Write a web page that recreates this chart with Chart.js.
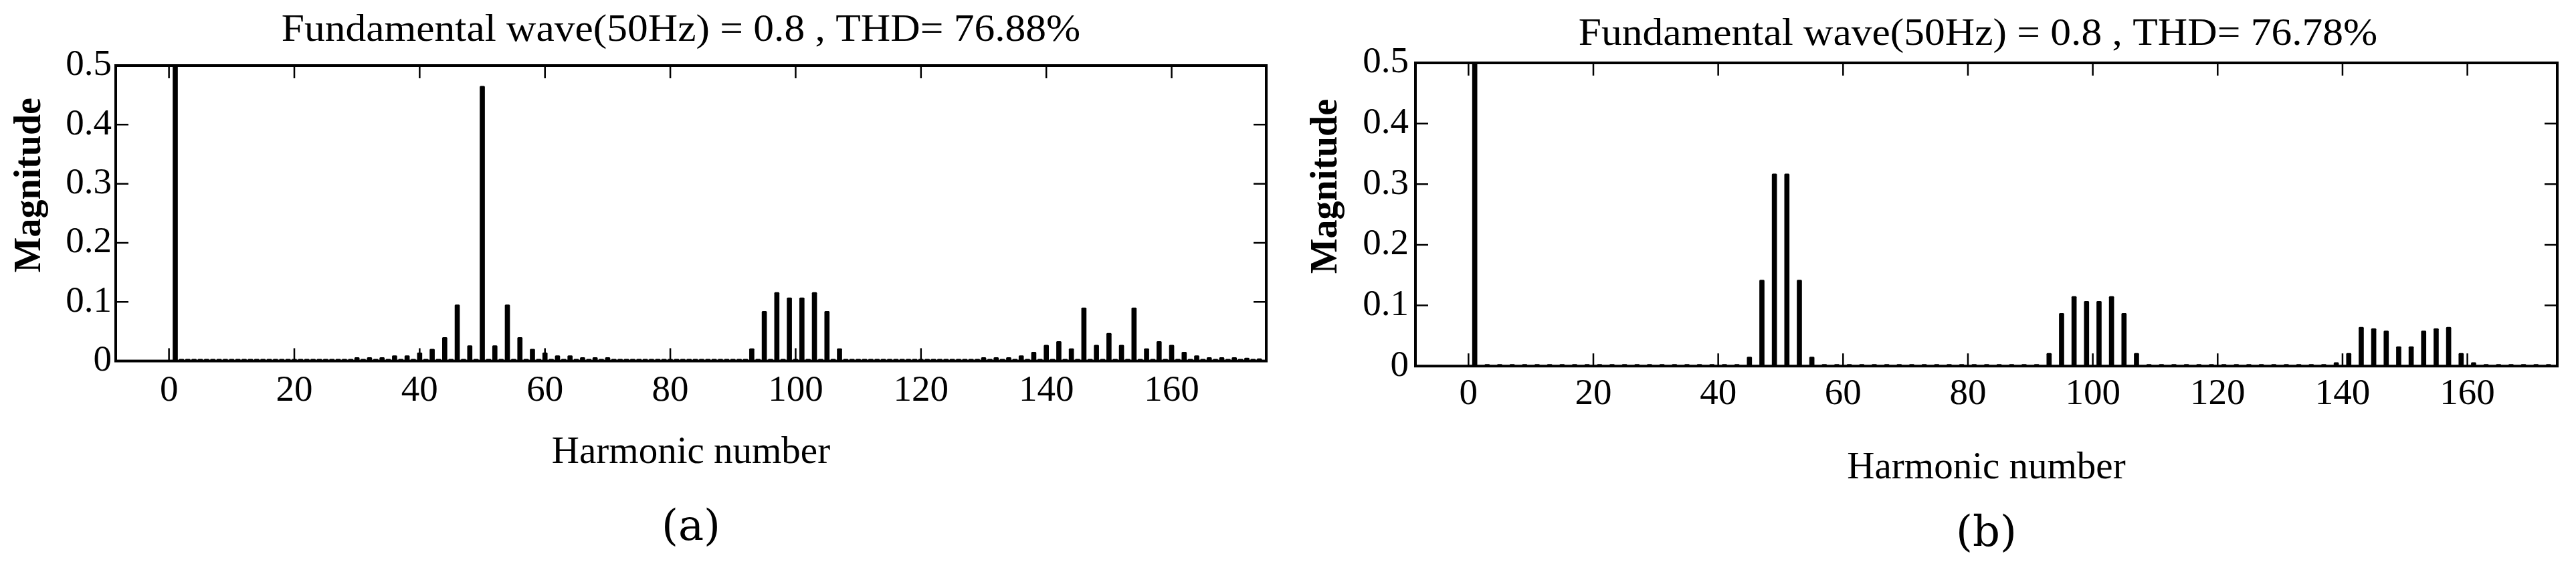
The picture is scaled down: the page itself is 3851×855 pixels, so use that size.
<!DOCTYPE html>
<html>
<head>
<meta charset="utf-8">
<script src="https://cdn.jsdelivr.net/npm/chart.js@4.4.1/dist/chart.umd.min.js"></script>
<style>
  html, body { margin: 0; padding: 0; background: #fff; }
  #wrap { position: relative; width: 3851px; height: 855px; }
  canvas { position: absolute; top: 0; }
  #chartA { left: 0; }
  #chartB { left: 1925px; }
</style>
</head>
<body>
<div id="wrap">
  <canvas id="chartA" width="1925" height="855"></canvas>
  <canvas id="chartB" width="1926" height="855"></canvas>
</div>
<script>
// harmonic magnitudes, index = harmonic number (0..174)
const magnitudesA = [
  0, 0.8, .003, .003, .003, .003, .003, .003, .003, .003,
  .003, .003, .003, .003, .003, .003, .003, .003, .003, .003,
  .003, .003, .003, .003, .003, .003, .003, .003, .003, .003,
  .006, .003, .006, .003, .006, .003, .009, .003, .009, .003,
  .014, .003, .020, .003, .040, .003, .095, .003, .026, .003,
  .465, .003, .026, .003, .095, .003, .040, .003, .020, .003,
  .014, .003, .009, .003, .009, .003, .006, .003, .006, .003,
  .006, .003, .003, .003, .003, .003, .003, .003, .003, .003,
  .003, .003, .003, .003, .003, .003, .003, .003, .003, .003,
  .003, .003, .003, .021, .003, .084, .003, .116, .003, .107,
  .003, .107, .003, .116, .003, .084, .003, .021, .003, .003,
  .003, .003, .003, .003, .003, .003, .003, .003, .003, .003,
  .003, .003, .003, .003, .003, .003, .003, .003, .003, .003,
  .006, .003, .006, .003, .006, .003, .009, .003, .015, .003,
  .027, .003, .033, .003, .021, .003, .090, .003, .027, .003,
  .047, .003, .027, .003, .090, .003, .021, .003, .033, .003,
  .027, .003, .015, .003, .009, .003, .006, .003, .006, .003,
  .006, .003, .005, .003, .004
];

const magnitudesB = [
  0, 0.8, 0, .003, 0, .003, 0, .003, 0, .003,
  0, .003, 0, .003, 0, .003, 0, .003, 0, .003,
  0, .003, 0, .003, 0, .003, 0, .003, 0, .003,
  0, .003, 0, .003, 0, .003, 0, .003, 0, .003,
  0, .003, 0, .003, 0, .015, 0, .142, 0, .317,
  0, .317, 0, .142, 0, .015, 0, .003, 0, .003,
  0, .003, 0, .003, 0, .003, 0, .003, 0, .003,
  0, .003, 0, .003, 0, .003, 0, .003, 0, .003,
  0, .003, 0, .003, 0, .003, 0, .003, 0, .003,
  0, .003, 0, .021, 0, .087, 0, .115, 0, .107,
  0, .107, 0, .115, 0, .087, 0, .021, 0, .003,
  0, .003, 0, .003, 0, .003, 0, .003, 0, .003,
  0, .003, 0, .003, 0, .003, 0, .003, 0, .003,
  0, .003, 0, .003, 0, .003, 0, .003, 0, .006,
  0, .021, 0, .064, 0, .062, 0, .058, 0, .032,
  0, .032, 0, .058, 0, .062, 0, .064, 0, .021,
  0, .006, 0, .003, 0, .003, 0, .003, 0, .003,
  0, .003, 0, .003, 0
];

const harmonicTicks = [0, 20, 40, 60, 80, 100, 120, 140, 160];
const magnitudeTicks = [0, 0.1, 0.2, 0.3, 0.4, 0.5];

const titleA = 'Fundamental wave(50Hz) = 0.8 , THD= 76.88%';
const titleB = 'Fundamental wave(50Hz) = 0.8 , THD= 76.78%';

const SERIF = "'Liberation Serif', 'Times New Roman', serif";
Chart.defaults.font.family = SERIF;
Chart.defaults.color = '#000';

// MATLAB style box with inward ticks on all four sides
const matlabFrame = {
  id: 'matlabFrame',
  afterDatasetsDraw(chart) {
    const { ctx, chartArea: a, scales: { x, y } } = chart;
    const len = 19;
    ctx.save();
    ctx.strokeStyle = '#000';
    ctx.lineWidth = 2.5;
    ctx.beginPath();
    harmonicTicks.forEach(v => {
      const px = x.getPixelForValue(v);
      ctx.moveTo(px, a.bottom); ctx.lineTo(px, a.bottom - len);
      ctx.moveTo(px, a.top); ctx.lineTo(px, a.top + len);
    });
    magnitudeTicks.forEach(v => {
      const py = y.getPixelForValue(v);
      ctx.moveTo(a.left, py); ctx.lineTo(a.left + len, py);
      ctx.moveTo(a.right, py); ctx.lineTo(a.right - len, py);
    });
    ctx.stroke();
    ctx.lineWidth = 4;
    ctx.strokeRect(a.left, a.top, a.right - a.left, a.bottom - a.top);
    ctx.restore();
  }
};

// the figure title is a touch wider than plain Times, so draw it stretched
const wideTitle = {
  id: 'wideTitle',
  afterDraw(chart, args, opts) {
    const ctx = chart.ctx;
    ctx.save();
    ctx.font = '58px ' + SERIF;
    ctx.fillStyle = '#000';
    ctx.textAlign = 'center';
    ctx.textBaseline = 'middle';
    ctx.translate(opts.x, opts.y);
    ctx.scale(1.06, 1);
    ctx.fillText(opts.text, 0, 0);
    ctx.restore();
  }
};

function drawSpectrum(canvasId, mags, cfg) {
  const ctx = document.getElementById(canvasId).getContext('2d');
  const points = mags.map((m, h) => ({ x: h, y: m })).filter(p => p.y > 0);
  return new Chart(ctx, {
    type: 'bar',
    data: {
      datasets: [{
        data: points,
        backgroundColor: '#000',
        barThickness: 7,
        borderRadius: 1.5,
        borderSkipped: 'bottom'
      }]
    },
    options: {
      responsive: false,
      animation: false,
      devicePixelRatio: 1,
      layout: { padding: { left: 0, right: cfg.padRight, top: cfg.padTop, bottom: 0 } },
      plugins: {
        legend: { display: false },
        tooltip: { enabled: false },
        wideTitle: { text: cfg.title, x: cfg.titleX, y: cfg.titleY },
        subtitle: {
          display: true,
          fullSize: false,
          position: 'bottom',
          text: cfg.caption,
          color: '#000',
          font: { family: "'DejaVu Serif', serif", size: 64 },
          padding: cfg.capPad
        }
      },
      scales: {
        x: {
          type: 'linear',
          min: cfg.xMin,
          max: cfg.xMax,
          offset: false,
          grid: { display: false, drawTicks: false },
          border: { display: false },
          afterBuildTicks: s => { s.ticks = harmonicTicks.map(v => ({ value: v })); },
          afterFit: s => { s.height = cfg.xHeight; },
          ticks: { padding: cfg.xTickPad, color: '#000', font: { size: 55 }, maxRotation: 0, autoSkip: false },
          title: {
            display: true,
            text: 'Harmonic number',
            color: '#000',
            font: { size: 57 },
            padding: { top: 0, bottom: cfg.xTitlePad }
          }
        },
        y: {
          min: 0,
          max: 0.5,
          grid: { display: false, drawTicks: false },
          border: { display: false },
          afterBuildTicks: s => { s.ticks = magnitudeTicks.map(v => ({ value: v })); },
          afterFit: s => { s.width = cfg.yWidth; },
          ticks: {
            padding: cfg.yTickPad,
            color: '#000',
            font: { size: 55 },
            callback: v => (v === 0 ? '0' : v.toFixed(1))
          },
          title: {
            display: true,
            // leading spaces nudge the label up, as in the original figure
            text: '      Magnitude',
            color: '#000',
            font: { size: 56, weight: 'bold' },
            padding: { top: cfg.yTitlePad, bottom: 0 }
          }
        }
      }
    },
    plugins: [matlabFrame, wideTitle]
  });
}

drawSpectrum('chartA', magnitudesA, {
  title: titleA, titleX: 1018, titleY: 46, caption: '(a)',
  xMin: -8.5, xMax: 175.1,
  padTop: 98, padRight: 32, yWidth: 173, yTickPad: 6, yTitlePad: 12,
  capPad: { top: 0, bottom: 26 },
  xHeight: 212.6, xTickPad: 12, xTitlePad: 41
});

drawSpectrum('chartB', magnitudesB, {
  title: titleB, titleX: 1032, titleY: 52, caption: '(b)',
  xMin: -8.5, xMax: 174.4,
  padTop: 94, padRight: 28, yWidth: 191, yTickPad: 10, yTitlePad: 25,
  capPad: { top: 0, bottom: 17 },
  xHeight: 214, xTickPad: 9, xTitlePad: 27
});
</script>
</body>
</html>
